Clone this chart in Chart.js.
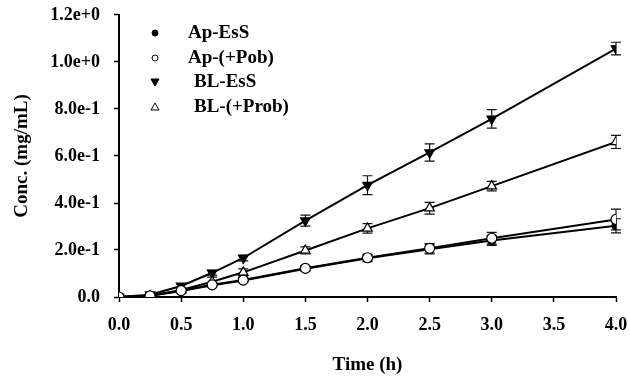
<!DOCTYPE html>
<html>
<head>
<meta charset="utf-8">
<script src="https://cdn.jsdelivr.net/npm/chart.js@4"></script>
<style>
  html, body { margin: 0; padding: 0; background: #fff; }
  #wrap { width: 630px; height: 377px; }
</style>
</head>
<body>
<div id="wrap"><canvas id="chart" width="630" height="377"></canvas></div>
<script>
const times = [0, 0.25, 0.5, 0.75, 1, 1.5, 2, 2.5, 3, 4];

const apEsS = [0, 0.005, 0.025, 0.05, 0.07, 0.12, 0.165, 0.203, 0.24, 0.303];
const apEsSErr = [0, 0.003, 0.005, 0.008, 0.008, 0.01, 0.015, 0.02, 0.02, 0.03];
const apPob = [0, 0.005, 0.027, 0.052, 0.072, 0.122, 0.167, 0.207, 0.25, 0.33];
const apPobErr = [0, 0.003, 0.005, 0.008, 0.008, 0.01, 0.015, 0.02, 0.025, 0.044];
const blEsS = [0, 0.01, 0.047, 0.103, 0.166, 0.325, 0.476, 0.615, 0.758, 1.057];
const blEsSErr = [0, 0.004, 0.008, 0.01, 0.012, 0.023, 0.04, 0.037, 0.039, 0.027];
const blProb = [0, 0.005, 0.03, 0.065, 0.105, 0.198, 0.292, 0.378, 0.472, 0.66];
const blProbErr = [0, 0.003, 0.006, 0.02, 0.015, 0.015, 0.02, 0.025, 0.02, 0.028];

const seriesNames = ['Ap-EsS', 'Ap-(+Pob)', 'BL-EsS', 'BL-(+Prob)'];
const yTickLabels = ['0.0', '2.0e-1', '4.0e-1', '6.0e-1', '8.0e-1', '1.0e+0', '1.2e+0'];
const xTickLabels = ['0.0', '0.5', '1.0', '1.5', '2.0', '2.5', '3.0', '3.5', '4.0'];

const FONT = "'Liberation Serif', 'Times New Roman', serif";

function pts(vals) {
  return times.map((t, i) => ({ x: t, y: vals[i] }));
}

const styles = [
  { pointStyle: 'circle', fill: '#000', radius: 4, rot: 0 },
  { pointStyle: 'circle', fill: '#fff', radius: 5, rot: 0 },
  { pointStyle: 'triangle', fill: '#000', radius: 5.5, rot: 180 },
  { pointStyle: 'triangle', fill: '#fff', radius: 5.5, rot: 0 }
];
const allVals = [apEsS, apPob, blEsS, blProb];
const allErrs = [apEsSErr, apPobErr, blEsSErr, blProbErr];
const drawOrder = [2, 1, 4, 3];

const datasets = seriesNames.map((name, i) => ({
  label: name,
  data: pts(allVals[i]),
  errors: allErrs[i],
  borderColor: '#000',
  borderWidth: 2,
  pointStyle: styles[i].pointStyle,
  pointRotation: styles[i].rot,
  pointRadius: styles[i].radius,
  pointBackgroundColor: styles[i].fill,
  pointBorderColor: '#000',
  pointBorderWidth: 1.2,
  order: drawOrder[i],
  tension: 0
}));

// error bars with caps
const errorBars = {
  id: 'errorBars',
  beforeDatasetsDraw(chart) {
    const ctx = chart.ctx;
    const xs = chart.scales.x, ys = chart.scales.y;
    ctx.save();
    ctx.strokeStyle = '#111';
    ctx.lineWidth = 1.2;
    chart.data.datasets.forEach(ds => {
      ds.data.forEach((p, i) => {
        const e = ds.errors[i];
        if (!e) return;
        const px = xs.getPixelForValue(p.x);
        const top = ys.getPixelForValue(p.y + e);
        const bot = ys.getPixelForValue(p.y - e);
        ctx.beginPath();
        ctx.moveTo(px, top); ctx.lineTo(px, bot);
        ctx.moveTo(px - 5, top); ctx.lineTo(px + 5, top);
        ctx.moveTo(px - 5, bot); ctx.lineTo(px + 5, bot);
        ctx.stroke();
      });
    });
    ctx.restore();
  }
};

// legend drawn inside the plot, top left
const innerLegend = {
  id: 'innerLegend',
  afterDraw(chart) {
    const ctx = chart.ctx;
    const rows = [33, 58, 82, 107];
    const textX = [188, 188, 194, 194];
    const mx = 155;
    ctx.save();
    ctx.font = 'bold 19px ' + FONT;
    ctx.fillStyle = '#000';
    ctx.textBaseline = 'middle';
    rows.forEach((y, i) => {
      ctx.fillText(seriesNames[i], textX[i], y);
      ctx.beginPath();
      ctx.lineWidth = 1;
      ctx.strokeStyle = '#000';
      if (i < 2) {
        ctx.arc(mx, y, 3, 0, Math.PI * 2);
      } else if (i === 2) {
        ctx.moveTo(mx - 4, y - 3); ctx.lineTo(mx + 4, y - 3); ctx.lineTo(mx, y + 4); ctx.closePath();
      } else {
        ctx.moveTo(mx - 4, y + 3); ctx.lineTo(mx + 4, y + 3); ctx.lineTo(mx, y - 4); ctx.closePath();
      }
      ctx.fillStyle = styles[i].fill;
      ctx.fill();
      ctx.stroke();
      ctx.fillStyle = '#000';
    });
    ctx.restore();
  }
};

new Chart(document.getElementById('chart'), {
  type: 'line',
  data: { datasets: datasets },
  plugins: [errorBars, innerLegend],
  options: {
    responsive: false,
    animation: false,
    layout: { padding: { top: 15, right: 14, left: 0, bottom: 0 } },
    plugins: { legend: { display: false }, tooltip: { enabled: false } },
    scales: {
      x: {
        type: 'linear',
        min: 0, max: 4,
        afterFit(s) { s.height = 80; s.paddingLeft = 0; s.paddingRight = 0; },
        afterBuildTicks(s) { s.ticks = xTickLabels.map((t, i) => ({ value: i * 0.5 })); },
        ticks: {
          color: '#000',
          font: { family: FONT, size: 18, weight: 'bold' },
          padding: 13,
          maxRotation: 0,
          callback: (v, i) => xTickLabels[i]
        },
        grid: { drawOnChartArea: false, drawTicks: true, tickLength: 5, color: '#000', tickWidth: 1.5 },
        border: { color: '#000', width: 2 },
        title: {
          display: true, text: 'Time (h)', color: '#000',
          font: { family: FONT, size: 19, weight: 'bold' },
          padding: { top: 0, bottom: 1 }
        }
      },
      y: {
        min: 0, max: 1.2,
        afterFit(s) { s.width = 119; s.paddingTop = 0; s.paddingBottom = 0; },
        afterBuildTicks(s) { s.ticks = yTickLabels.map((t, i) => ({ value: i * 0.2 })); },
        ticks: {
          color: '#000',
          font: { family: FONT, size: 18, weight: 'bold' },
          padding: 14,
          callback: (v, i) => yTickLabels[i]
        },
        grid: { drawOnChartArea: false, drawTicks: true, tickLength: 5, color: '#000', tickWidth: 1.5 },
        border: { color: '#000', width: 2 },
        title: {
          display: true, text: 'Conc. (mg/mL)', color: '#000',
          font: { family: FONT, size: 19, weight: 'bold' },
          padding: { top: 11, bottom: 0 }
        }
      }
    }
  }
});
</script>
</body>
</html>
